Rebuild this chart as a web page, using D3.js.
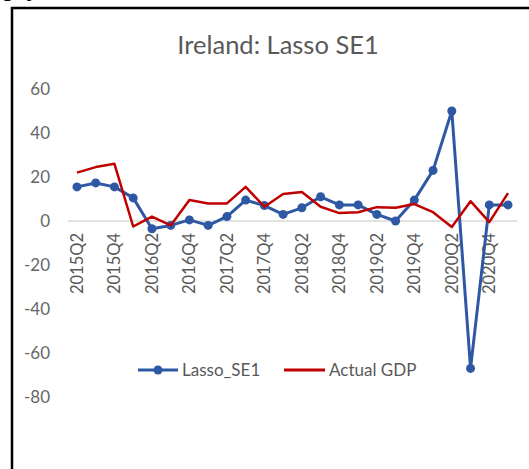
<!DOCTYPE html>
<meta charset="utf-8">
<style>
body { margin: 0; background: #fff; }
text { font-family: Lato, "Noto Sans", sans-serif; fill: #595959; }
.axis path, .axis line { display: none; }
</style>
<body>
<script src="https://d3js.org/d3.v7.min.js"></script>
<script>
// data
const quarters = ["2015Q2","2015Q3","2015Q4","2016Q1","2016Q2","2016Q3","2016Q4","2017Q1",
  "2017Q2","2017Q3","2017Q4","2018Q1","2018Q2","2018Q3","2018Q4","2019Q1",
  "2019Q2","2019Q3","2019Q4","2020Q1","2020Q2","2020Q3","2020Q4","2021Q1"];
const lassoSE1 = [15.5, 17.3, 15.5, 10.5, -3.5, -2, 0.5, -2, 2, 9.5, 7, 3,
  6, 11, 7.3, 7.3, 3, 0, 9.5, 23, 50, -67, 7.3, 7.3];
const actualGDP = [22, 24.5, 26, -2.5, 2, -2, 9.5, 8, 8, 15.5, 6.5, 12.3,
  13.2, 6.5, 3.6, 4, 6.3, 6, 7.7, 4, -2.7, 9, -0.5, 12.7];
const yTicks = [-80, -60, -40, -20, 0, 20, 40, 60];
const xTickLabels = quarters.filter((q, i) => i % 2 === 0);

const W = 529, H = 469;
const svg = d3.select("body").append("svg")
  .attr("width", W).attr("height", H);

svg.append("rect").attr("width", W).attr("height", H).attr("fill", "#fff");

// clipped text from the page above
svg.append("text").attr("x", 1).attr("y", -4)
  .style("font-family", "Liberation Sans").style("font-weight", "bold")
  .style("font-size", "22px").style("fill", "#000").text("g");
svg.append("text").attr("x", 26).attr("y", -4)
  .style("font-family", "Liberation Sans").style("font-weight", "bold")
  .style("font-size", "22px").style("fill", "#000").text("y");

// frame
svg.append("rect")
  .attr("x", 12).attr("y", 8).attr("width", 600).attr("height", 600)
  .attr("fill", "none").attr("stroke", "#000").attr("stroke-width", 2.5);

svg.append("text")
  .attr("x", 278).attr("y", 54)
  .attr("text-anchor", "middle")
  .style("font-size", "25.5px")
  .text("Ireland: Lasso SE1");

const x = d3.scaleBand().domain(quarters).range([67.6, 517.4]);
const y = d3.scaleLinear().domain([-80, 60]).range([397, 89]);
const cx = d => x(d) + x.bandwidth() / 2;

// y labels
svg.append("g").attr("class", "axis")
  .attr("transform", "translate(56,0)")
  .call(d3.axisLeft(y).tickValues(yTicks).tickSize(0).tickPadding(6)
    .tickFormat(d => String(d)))
  .selectAll("text").style("font-size", "17px").style("fill", "#666")
  .style("font-family", "Lato, sans-serif");

// zero line
svg.append("line")
  .attr("x1", x.range()[0]).attr("x2", x.range()[1])
  .attr("y1", y(0)).attr("y2", y(0))
  .attr("stroke", "#d9d9d9").attr("stroke-width", 1.5);

// x labels
svg.append("g").attr("class", "axis")
  .attr("transform", "translate(0," + y(0) + ")")
  .call(d3.axisBottom(x).tickValues(xTickLabels).tickSize(0))
  .selectAll("text")
  .style("font-size", "16.5px").style("fill", "#595959")
  .style("font-family", "Lato, sans-serif")
  .attr("text-anchor", "end")
  .attr("transform", "rotate(-90)")
  .attr("x", -12).attr("y", 0).attr("dy", "0.35em");

const line = d3.line().x((d, i) => cx(quarters[i])).y(d => y(d));

const blue = "#2f58a4", red = "#c00000";

svg.append("path").datum(lassoSE1)
  .attr("d", line).attr("fill", "none")
  .attr("stroke", blue).attr("stroke-width", 3).attr("stroke-linejoin", "round");
svg.selectAll(".dot").data(lassoSE1).enter().append("circle")
  .attr("class", "dot")
  .attr("cx", (d, i) => cx(quarters[i])).attr("cy", d => y(d))
  .attr("r", 4.5).attr("fill", blue);

svg.append("path").datum(actualGDP)
  .attr("d", line).attr("fill", "none")
  .attr("stroke", red).attr("stroke-width", 2.5).attr("stroke-linejoin", "round");

// legend
const lg = svg.append("g").attr("transform", "translate(0,370)");
lg.append("line").attr("x1", 138).attr("x2", 178).attr("y1", 0).attr("y2", 0)
  .attr("stroke", blue).attr("stroke-width", 3);
lg.append("circle").attr("cx", 158).attr("cy", 0).attr("r", 4.5).attr("fill", blue);
lg.append("text").attr("x", 182).attr("y", 0).attr("dy", "0.35em")
  .style("font-size", "17px").text("Lasso_SE1");
lg.append("line").attr("x1", 284).attr("x2", 325).attr("y1", 0).attr("y2", 0)
  .attr("stroke", red).attr("stroke-width", 3);
lg.append("text").attr("x", 329).attr("y", 0).attr("dy", "0.35em")
  .style("font-size", "17px").text("Actual GDP");
</script>
</body>
